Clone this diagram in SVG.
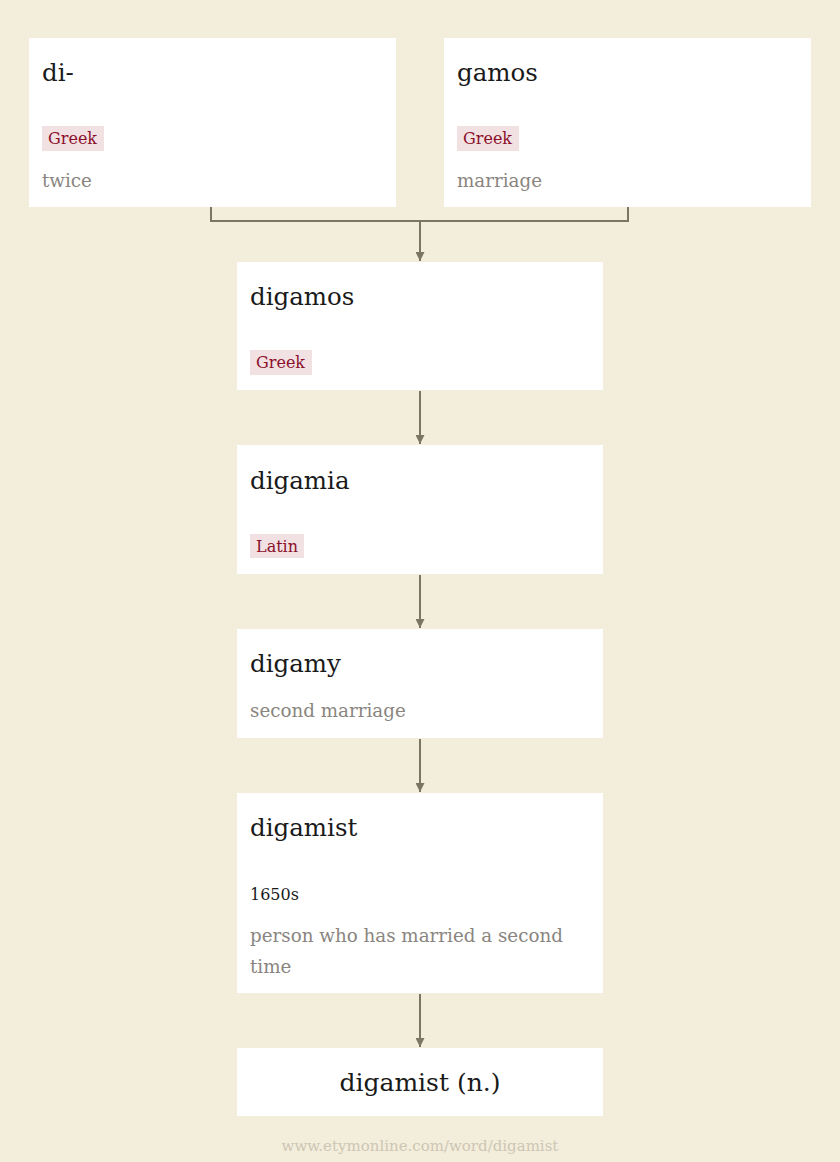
<svg xmlns="http://www.w3.org/2000/svg" width="840" height="1162" viewBox="0 0 840 1162">
<defs>
<style>
.box{fill:#ffffff}
.t{font-family:"DejaVu Serif","Liberation Serif",serif;font-size:24.5px;fill:#1a1a1a}
.tag{fill:#f2e1e3}
.tagt{font-family:"DejaVu Serif","Liberation Serif",serif;font-size:16px;fill:#8a0f2a}
.g{font-family:"DejaVu Serif","Liberation Serif",serif;font-size:18.3px;fill:#8a8580}
.d{font-family:"DejaVu Serif","Liberation Serif",serif;font-size:16px;fill:#1a1a1a}
.c{fill:none;stroke:#7b7563;stroke-width:2}
</style>
<marker id="ah" viewBox="0 0 10 10" refX="10" refY="5" markerWidth="11" markerHeight="9" markerUnits="userSpaceOnUse" orient="auto">
<path d="M0,0 L10,5 L0,10 z" fill="#7b7563"/>
</marker>
</defs>
<rect x="0" y="0" width="840" height="1162" fill="#f3eddb"/>
<g id="connectors">
<path class="c" d="M211,207 V221 H628 V207"/>
<path class="c" d="M420,221 V261" marker-end="url(#ah)"/>
<path class="c" d="M420,391 V444" marker-end="url(#ah)"/>
<path class="c" d="M420,575 V628" marker-end="url(#ah)"/>
<path class="c" d="M420,739 V792" marker-end="url(#ah)"/>
<path class="c" d="M420,994 V1047" marker-end="url(#ah)"/>
</g>
<g id="n-di">
<rect class="box" x="29" y="38" width="367" height="169"/>
<text class="t" x="42" y="81">di-</text>
<rect class="tag" x="42" y="126" width="62" height="25"/>
<text class="tagt" x="48" y="144">Greek</text>
<text class="g" x="42" y="187">twice</text>
</g>
<g id="n-gamos">
<rect class="box" x="444" y="38" width="367" height="169"/>
<text class="t" x="457" y="81">gamos</text>
<rect class="tag" x="457" y="126" width="62" height="25"/>
<text class="tagt" x="463" y="144">Greek</text>
<text class="g" x="457" y="187">marriage</text>
</g>
<g id="n-digamos">
<rect class="box" x="237" y="262" width="366" height="128"/>
<text class="t" x="250" y="305">digamos</text>
<rect class="tag" x="250" y="350" width="62" height="25"/>
<text class="tagt" x="256" y="368">Greek</text>
</g>
<g id="n-digamia">
<rect class="box" x="237" y="445" width="366" height="129"/>
<text class="t" x="250" y="489">digamia</text>
<rect class="tag" x="250" y="534" width="54" height="24"/>
<text class="tagt" x="256" y="552">Latin</text>
</g>
<g id="n-digamy">
<rect class="box" x="237" y="629" width="366" height="109"/>
<text class="t" x="250" y="672">digamy</text>
<text class="g" x="250" y="717">second marriage</text>
</g>
<g id="n-digamist">
<rect class="box" x="237" y="793" width="366" height="200"/>
<text class="t" x="250" y="836">digamist</text>
<text class="d" x="250" y="900">1650s</text>
<text class="g" x="250" y="942">person who has married a second</text>
<text class="g" x="250" y="973">time</text>
</g>
<g id="n-final">
<rect class="box" x="237" y="1048" width="366" height="68"/>
<text class="t" x="420" y="1091" text-anchor="middle" style="font-size:25px">digamist (n.)</text>
</g>
<text x="420" y="1151" text-anchor="middle" font-family="DejaVu Serif,Liberation Serif,serif" font-size="15" fill="#cdc6b4">www.etymonline.com/word/digamist</text>
</svg>
